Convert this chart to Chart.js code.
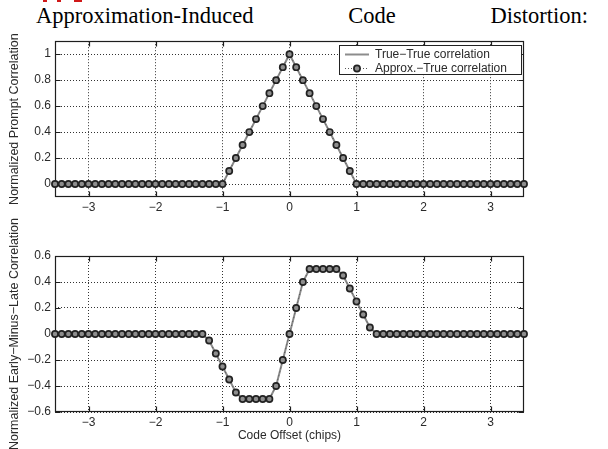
<!DOCTYPE html>
<html>
<head>
<meta charset="utf-8">
<script src="https://cdn.jsdelivr.net/npm/chart.js@4.4.1/dist/chart.umd.min.js"></script>
<style>
  body { margin: 0; background: #fff; width: 608px; height: 449px; overflow: hidden; position: relative; }
  #title {
    position: absolute; left: 36px; top: 5px; width: 552px;
    font-family: "Liberation Serif", "Times New Roman", serif; font-size: 22.5px; line-height: 1;
    text-align: justify; text-align-last: justify; color: #000;
  }
  .mark { position: absolute; top: 0; height: 2px; overflow: hidden; background: #d01818; }
  canvas { position: absolute; left: 0; }
</style>
</head>
<body>
<div class="mark" style="left:43px;width:4px"></div>
<div class="mark" style="left:57px;width:4px"></div>
<div class="mark" style="left:74px;width:8px"></div>
<div id="title">Approximation-Induced Code Distortion:</div>
<canvas id="promptChart" width="608" height="195" style="top:30px"></canvas>
<canvas id="emlChart" width="608" height="244" style="top:205px"></canvas>
<script>
// code offsets in chips
const offsets = [-3.5, -3.4, -3.3, -3.2, -3.1, -3.0, -2.9, -2.8, -2.7, -2.6,
  -2.5, -2.4, -2.3, -2.2, -2.1, -2.0, -1.9, -1.8, -1.7, -1.6,
  -1.5, -1.4, -1.3, -1.2, -1.1, -1.0, -0.9, -0.8, -0.7, -0.6,
  -0.5, -0.4, -0.3, -0.2, -0.1, 0, 0.1, 0.2, 0.3, 0.4,
  0.5, 0.6, 0.7, 0.8, 0.9, 1.0, 1.1, 1.2, 1.3, 1.4,
  1.5, 1.6, 1.7, 1.8, 1.9, 2.0, 2.1, 2.2, 2.3, 2.4,
  2.5, 2.6, 2.7, 2.8, 2.9, 3.0, 3.1, 3.2, 3.3, 3.4, 3.5];

// prompt correlation
const promptTrue = [0, 0, 0, 0, 0, 0, 0, 0, 0, 0,
  0, 0, 0, 0, 0, 0, 0, 0, 0, 0,
  0, 0, 0, 0, 0, 0, 0.1, 0.2, 0.3, 0.4,
  0.5, 0.6, 0.7, 0.8, 0.9, 1, 0.9, 0.8, 0.7, 0.6,
  0.5, 0.4, 0.3, 0.2, 0.1, 0, 0, 0, 0, 0,
  0, 0, 0, 0, 0, 0, 0, 0, 0, 0,
  0, 0, 0, 0, 0, 0, 0, 0, 0, 0, 0];
const promptApprox = [0, 0, 0, 0, 0, 0, 0, 0, 0, 0,
  0, 0, 0, 0, 0, 0, 0, 0, 0, 0,
  0, 0, 0, 0, 0, 0, 0.1, 0.2, 0.3, 0.4,
  0.5, 0.6, 0.7, 0.8, 0.9, 1, 0.9, 0.8, 0.7, 0.6,
  0.5, 0.4, 0.3, 0.2, 0.1, 0, 0, 0, 0, 0,
  0, 0, 0, 0, 0, 0, 0, 0, 0, 0,
  0, 0, 0, 0, 0, 0, 0, 0, 0, 0, 0];

// early-minus-late correlation
const emlTrue = [0, 0, 0, 0, 0, 0, 0, 0, 0, 0,
  0, 0, 0, 0, 0, 0, 0, 0, 0, 0,
  0, 0, 0, -0.05, -0.15, -0.25, -0.35, -0.45, -0.5, -0.5,
  -0.5, -0.5, -0.5, -0.4, -0.2, 0, 0.2, 0.4, 0.5, 0.5,
  0.5, 0.5, 0.5, 0.45, 0.35, 0.25, 0.15, 0.05, 0, 0,
  0, 0, 0, 0, 0, 0, 0, 0, 0, 0,
  0, 0, 0, 0, 0, 0, 0, 0, 0, 0, 0];
const emlApprox = [0, 0, 0, 0, 0, 0, 0, 0, 0, 0,
  0, 0, 0, 0, 0, 0, 0, 0, 0, 0,
  0, 0, 0, -0.05, -0.15, -0.25, -0.35, -0.45, -0.5, -0.5,
  -0.5, -0.5, -0.5, -0.4, -0.2, 0, 0.2, 0.4, 0.5, 0.5,
  0.5, 0.5, 0.5, 0.45, 0.35, 0.25, 0.15, 0.05, 0, 0,
  0, 0, 0, 0, 0, 0, 0, 0, 0, 0,
  0, 0, 0, 0, 0, 0, 0, 0, 0, 0, 0];

const xTicks = [-3, -2, -1, 0, 1, 2, 3];
const promptTicks = [0, 0.2, 0.4, 0.6, 0.8, 1];
const emlTicks = [-0.6, -0.4, -0.2, 0, 0.2, 0.4, 0.6];
const seriesNames = ['True\u2212True correlation', 'Approx.\u2212True correlation'];

Chart.defaults.font.family = '"Liberation Sans", Arial, sans-serif';
Chart.defaults.font.size = 12;
Chart.defaults.color = '#2a2a2a';

const fmt = v => (v < 0 ? '\u2212' : '') + Math.abs(v);
const pts = vals => offsets.map((x, i) => ({ x: x, y: vals[i] }));

// box around the axes with inward tick marks
const framePlugin = {
  id: 'frame',
  beforeDatasetsDraw(chart) {
    const { ctx, chartArea: a, scales } = chart;
    const l = Math.round(a.left) + 0.5, r = Math.round(a.right) - 0.5;
    const t = Math.round(a.top) + 0.5, b = Math.round(a.bottom) - 0.5;
    ctx.save();
    ctx.strokeStyle = '#1e1e1e';
    ctx.lineWidth = 1.2;
    ctx.strokeRect(l, t, r - l, b - t);
    ctx.beginPath();
    scales.x.ticks.forEach(tk => {
      const px = Math.round(scales.x.getPixelForValue(tk.value)) + 0.5;
      ctx.moveTo(px, b); ctx.lineTo(px, b - 5);
      ctx.moveTo(px, t); ctx.lineTo(px, t + 5);
    });
    scales.y.ticks.forEach(tk => {
      const py = Math.round(scales.y.getPixelForValue(tk.value)) + 0.5;
      ctx.moveTo(l, py); ctx.lineTo(l + 5, py);
      ctx.moveTo(r, py); ctx.lineTo(r - 5, py);
    });
    ctx.stroke();
    ctx.restore();
  }
};

// legend box in the upper right corner of the axes
const boxLegend = {
  id: 'boxLegend',
  afterDraw(chart) {
    const { ctx, chartArea: a } = chart;
    const ds = chart.data.datasets;
    const w = 182, h = 29;
    const bx = Math.round(a.right) - 3 - w, by = Math.round(a.top) + 4;
    ctx.save();
    ctx.fillStyle = '#fff';
    ctx.fillRect(bx, by, w, h);
    ctx.strokeStyle = '#222';
    ctx.lineWidth = 1;
    ctx.strokeRect(bx + 0.5, by + 0.5, w, h);

    const y1 = by + 9.5, y2 = by + 23.5;
    ctx.strokeStyle = ds[0].borderColor;
    ctx.lineWidth = ds[0].borderWidth;
    ctx.beginPath(); ctx.moveTo(bx + 6, y1); ctx.lineTo(bx + 30, y1); ctx.stroke();

    ctx.strokeStyle = ds[1].borderColor;
    ctx.lineWidth = 1.2;
    ctx.setLineDash([1, 2]);
    ctx.beginPath(); ctx.moveTo(bx + 6, y2); ctx.lineTo(bx + 30, y2); ctx.stroke();
    ctx.setLineDash([]);
    ctx.fillStyle = ds[1].pointBackgroundColor;
    ctx.strokeStyle = ds[1].pointBorderColor;
    ctx.lineWidth = ds[1].pointBorderWidth;
    ctx.beginPath(); ctx.arc(bx + 18, y2, ds[1].pointRadius, 0, Math.PI * 2); ctx.fill(); ctx.stroke();

    ctx.fillStyle = '#2a2a2a';
    ctx.font = '12px "Liberation Sans", Arial, sans-serif';
    ctx.textBaseline = 'middle';
    ctx.fillText(ds[0].label, bx + 36, y1);
    ctx.fillText(ds[1].label, bx + 36, y2);
    ctx.restore();
  }
};

function makeDatasets(trueVals, approxVals) {
  return [
    { label: seriesNames[0], data: pts(trueVals), borderColor: '#8c8c8c', borderWidth: 2,
      pointRadius: 0, order: 2 },
    { label: seriesNames[1], data: pts(approxVals), borderColor: '#555', borderWidth: 1,
      borderDash: [1, 3], pointRadius: 3.1, pointBorderWidth: 1.7,
      pointBorderColor: '#222', pointBackgroundColor: '#8e8e8e', order: 1, clip: false }
  ];
}

function makeOptions(cfg) {
  return {
    responsive: false,
    animation: false,
    devicePixelRatio: 1,
    layout: { padding: { top: cfg.padTop, right: 84, left: 0, bottom: 0 } },
    plugins: { legend: { display: false }, tooltip: { enabled: false } },
    scales: {
      x: {
        type: 'linear', min: -3.5, max: 3.5,
        afterBuildTicks: s => { s.ticks = xTicks.map(v => ({ value: v })); },
        afterFit: s => { s.height = cfg.xHeight; },
        ticks: { padding: 3, callback: fmt, maxRotation: 0, autoSkip: false },
        grid: { color: '#333', lineWidth: 1, drawTicks: false },
        border: { display: false, dash: [1, 2] },
        title: cfg.xTitle
          ? { display: true, text: cfg.xTitle, padding: { top: 0, bottom: 6 } }
          : { display: false }
      },
      y: {
        type: 'linear', min: cfg.yMin, max: cfg.yMax,
        afterBuildTicks: s => { s.ticks = cfg.yTicks.map(v => ({ value: v })); },
        afterFit: s => { s.width = 55; },
        ticks: { padding: 4, callback: fmt, autoSkip: false },
        grid: { color: '#333', lineWidth: 1, drawTicks: false },
        border: { display: false, dash: [1, 2] },
        title: { display: true, text: cfg.yTitle, font: { size: 12.5 }, padding: { top: 7, bottom: 0 } }
      }
    }
  };
}

new Chart(document.getElementById('promptChart'), {
  type: 'line',
  data: { datasets: makeDatasets(promptTrue, promptApprox) },
  options: makeOptions({ padTop: 11, xHeight: 28, yMin: -0.1, yMax: 1.1, yTicks: promptTicks,
    yTitle: 'Normalized Prompt Correlation' }),
  plugins: [framePlugin, boxLegend]
});

new Chart(document.getElementById('emlChart'), {
  type: 'line',
  data: { datasets: makeDatasets(emlTrue, emlApprox) },
  options: makeOptions({ padTop: 51, xHeight: 37, yMin: -0.6, yMax: 0.6, yTicks: emlTicks,
    yTitle: 'Normalized Early\u2212Minus\u2212Late Correlation', xTitle: 'Code Offset (chips)' }),
  plugins: [framePlugin]
});
</script>
</body>
</html>
